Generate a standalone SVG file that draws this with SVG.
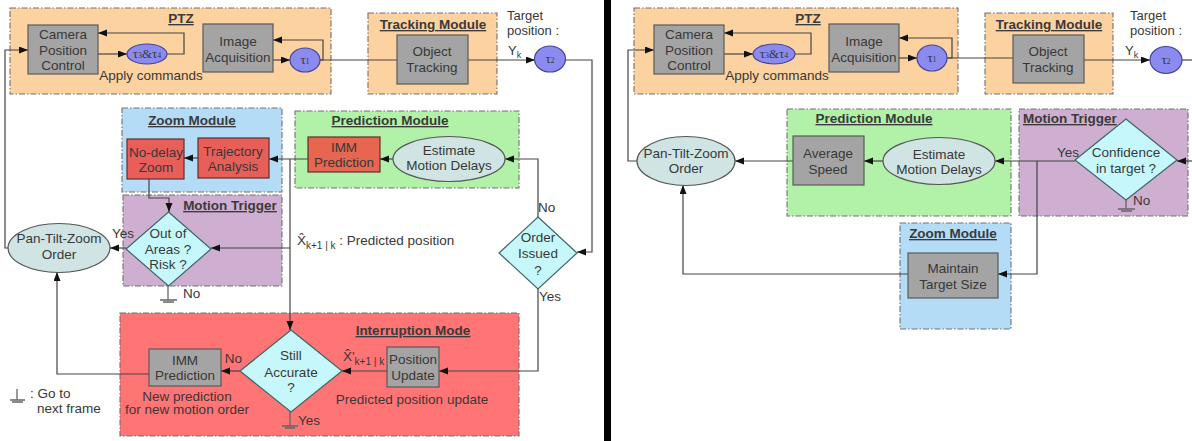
<svg xmlns="http://www.w3.org/2000/svg" width="1192" height="441" viewBox="0 0 1192 441">
  <defs>
    <marker id="arr" markerUnits="userSpaceOnUse" markerWidth="10" markerHeight="8" refX="9" refY="3.5" orient="auto">
      <path d="M0,0 L9,3.5 L0,7 z" fill="#111"/>
    </marker>
    <style>
      text { font-family: "Liberation Sans", Arial, sans-serif; font-size: 13.5px; fill: #383838; }
      .c { text-anchor: middle; }
      .hd { font-weight: bold; text-decoration: underline; fill: #3a3a3a; }
      .sm { font-size: 13px; }
      .group { stroke: #707070; stroke-width: 1.1; stroke-dasharray: 6 2 1.5 2; }
      .orange { fill: #fdd2a1; }
      .green { fill: #b2f2a8; }
      .blue { fill: #b5dcf7; }
      .mauve { fill: #cfafd1; }
      .redzone { fill: #ff7474; }
      .box { fill: #a4a4a4; stroke: #5a5a5a; stroke-width: 1.2; }
      .redbox { fill: #e85f5a; stroke: #5a3030; stroke-width: 1.2; }
      .tau { fill: #8b8bef; stroke: #44449a; stroke-width: 1.2; }
      .oval { fill: #cfe4e3; stroke: #555; stroke-width: 1.2; }
      .dia { fill: #c6f8fb; stroke: #3d6666; stroke-width: 1.2; }
      .wire { fill: none; stroke: #444; stroke-width: 1.2; }
      .ground { fill: none; stroke: #666; stroke-width: 1.3; }
    </style>
  </defs>

  <rect x="0" y="0" width="1192" height="441" fill="#ffffff"/>

  <!-- ===== Left scheme: module frames ===== -->
  <g id="ptz-left">
    <rect class="group orange" x="10" y="8" width="321" height="86"/>
    <text class="hd c" x="181" y="23">PTZ</text>
  </g>
  <g id="tracking-left">
    <rect class="group orange" x="368" y="13" width="129" height="81"/>
    <text class="hd c" x="433" y="29">Tracking Module</text>
  </g>
  <g id="zoom-left">
    <rect class="group blue" x="122" y="108" width="160" height="84"/>
    <text class="hd c" x="192" y="125">Zoom Module</text>
  </g>
  <g id="prediction-left">
    <rect class="group green" x="295" y="111" width="224" height="77"/>
    <text class="hd c" x="390" y="125">Prediction  Module</text>
  </g>
  <g id="trigger-left">
    <rect class="group mauve" x="123" y="195" width="159" height="91"/>
    <text class="hd c" x="230" y="210">Motion Trigger</text>
  </g>
  <g id="interruption-left">
    <rect class="group redzone" x="120" y="313" width="399" height="123"/>
    <text class="hd c" x="413" y="335">Interruption Mode</text>
  </g>

  <!-- ===== Right scheme: module frames ===== -->
  <g id="ptz-right">
    <rect class="group orange" x="634" y="8" width="324" height="86"/>
    <text class="hd c" x="808" y="23">PTZ</text>
  </g>
  <g id="tracking-right">
    <rect class="group orange" x="985" y="13" width="128" height="81"/>
    <text class="hd c" x="1049" y="29">Tracking Module</text>
  </g>
  <g id="prediction-right">
    <rect class="group green" x="787" y="109" width="224" height="107"/>
    <text class="hd c" x="874" y="123">Prediction  Module</text>
  </g>
  <g id="trigger-right">
    <rect class="group mauve" x="1019" y="109" width="169" height="107"/>
    <text class="hd" x="1023" y="123">Motion Trigger</text>
  </g>
  <g id="zoom-right">
    <rect class="group blue" x="900" y="223" width="111" height="106"/>
    <text class="hd c" x="953" y="238">Zoom Module</text>
  </g>

  <!-- ===== Connectors ===== -->
  <g id="connectors">
    <!-- left scheme -->
    <path class="wire" d="M98,54 H127" marker-end="url(#arr)"/>
    <path class="wire" d="M167,54 H184 V33 H98" marker-end="url(#arr)"/>
    <path class="wire" d="M273,60 H290" marker-end="url(#arr)"/>
    <path class="wire" d="M320,60 H323 V40 H273" marker-end="url(#arr)"/>
    <path class="wire" d="M320,60 H397"/>
    <path class="wire" d="M468,60 H535" marker-end="url(#arr)"/>
    <path class="wire" d="M566,60 H592 V252 H577" marker-end="url(#arr)"/>
    <path class="wire" d="M538,217 V159 H505" marker-end="url(#arr)"/>
    <path class="wire" d="M393,159 H380" marker-end="url(#arr)"/>
    <path class="wire" d="M308,159 H269" marker-end="url(#arr)"/>
    <path class="wire" d="M290,159 V330" marker-end="url(#arr)"/>
    <path class="wire" d="M290,248 H211" marker-end="url(#arr)"/>
    <path class="wire" d="M198,158 H184" marker-end="url(#arr)"/>
    <path class="wire" d="M149,179 V198 H169 V212" marker-end="url(#arr)"/>
    <path class="wire" d="M126,248 H110" marker-end="url(#arr)"/>
    <path class="wire" d="M8,248 H5 V50 H28" marker-end="url(#arr)"/>
    <path class="wire" d="M538,289 V371 H439" marker-end="url(#arr)"/>
    <path class="wire" d="M387,371 H342" marker-end="url(#arr)"/>
    <path class="wire" d="M240,371 H221" marker-end="url(#arr)"/>
    <path class="wire" d="M149,374 H57 V272" marker-end="url(#arr)"/>
    <!-- go-to-next-frame terminals -->
    <path class="ground" d="M168,286 V300 M160,300 H177 M163,302 H174"/>
    <path class="ground" d="M290,412 V426 M282,426 H298 M285,428 H295"/>

    <!-- right scheme -->
    <path class="wire" d="M724,54 H753" marker-end="url(#arr)"/>
    <path class="wire" d="M795,54 H811 V33 H724" marker-end="url(#arr)"/>
    <path class="wire" d="M899,58 H917" marker-end="url(#arr)"/>
    <path class="wire" d="M947,58 H952 V38 H899" marker-end="url(#arr)"/>
    <path class="wire" d="M947,58 H1013"/>
    <path class="wire" d="M1084,60 H1150" marker-end="url(#arr)"/>
    <path class="wire" d="M1182,60 H1192"/>
    <path class="wire" d="M1192,161 H1177" marker-end="url(#arr)"/>
    <path class="wire" d="M1075,161 H995" marker-end="url(#arr)"/>
    <path class="wire" d="M1037,161 V274 H998" marker-end="url(#arr)"/>
    <path class="wire" d="M883,161 H864" marker-end="url(#arr)"/>
    <path class="wire" d="M793,161 H735" marker-end="url(#arr)"/>
    <path class="wire" d="M637,161 H628 V50 H654" marker-end="url(#arr)"/>
    <path class="wire" d="M908,274 H683 V185" marker-end="url(#arr)"/>
    <path class="ground" d="M1126,200 V209 M1118,209 H1135 M1121,211 H1132"/>
  </g>

  <!-- ===== Left scheme: nodes ===== -->
  <g id="camera-left">
    <rect class="box" x="28" y="25" width="70" height="49"/>
    <text class="c" x="63" y="39">Camera</text>
    <text class="c" x="63" y="55">Position</text>
    <text class="c" x="63" y="70">Control</text>
  </g>
  <g id="tau34-left">
    <ellipse class="tau" cx="147" cy="54" rx="20" ry="10"/>
    <text class="c" x="147" y="58" style="font-family:'Liberation Serif',serif;font-size:13px">τ<tspan font-size="8">3</tspan>&amp;τ<tspan font-size="8">4</tspan></text>
    <text class="c" x="151" y="80">Apply commands</text>
  </g>
  <g id="acquisition-left">
    <rect class="box" x="203" y="24" width="70" height="48"/>
    <text class="c" x="238" y="46">Image</text>
    <text class="c" x="238" y="62">Acquisition</text>
  </g>
  <g id="tau1-left">
    <ellipse class="tau" cx="305" cy="60" rx="15" ry="12"/>
    <text class="c" x="305" y="64" style="font-family:'Liberation Serif',serif;font-size:13px">τ<tspan font-size="8">1</tspan></text>
  </g>
  <g id="tracking-node-left">
    <rect class="box" x="397" y="35" width="71" height="49"/>
    <text class="c" x="432" y="56">Object</text>
    <text class="c" x="432" y="72">Tracking</text>
  </g>
  <g id="target-left">
    <text class="sm" x="507" y="20">Target</text>
    <text class="sm" x="507" y="35">position :</text>
    <text class="sm" x="508" y="55">Y<tspan font-size="9" dy="3">k</tspan></text>
  </g>
  <g id="tau2-left">
    <ellipse class="tau" cx="550" cy="59" rx="15.5" ry="13"/>
    <text class="c" x="550" y="63" style="font-family:'Liberation Serif',serif;font-size:13px">τ<tspan font-size="8">2</tspan></text>
  </g>
  <g id="order-issued">
    <polygon class="dia" points="538,217 577,253 538,289 499,253"/>
    <text class="c" x="538" y="242">Order</text>
    <text class="c" x="538" y="258">Issued</text>
    <text class="c" x="538" y="275">?</text>
    <text x="538" y="212">No</text>
    <text x="539" y="301">Yes</text>
  </g>
  <g id="estimate-left">
    <ellipse class="oval" cx="449" cy="159" rx="56" ry="22.5"/>
    <text class="c" x="449" y="155">Estimate</text>
    <text class="c" x="449" y="170">Motion Delays</text>
  </g>
  <g id="imm-prediction">
    <rect x="308" y="137" width="72" height="35" fill="#e6664f" stroke="#5a3030" stroke-width="1.2"/>
    <text class="c" x="344" y="152">IMM</text>
    <text class="c" x="344" y="167">Prediction</text>
  </g>
  <g id="trajectory">
    <rect class="redbox" x="198" y="138" width="71" height="40"/>
    <text class="c" x="233" y="156">Trajectory</text>
    <text class="c" x="233" y="171">Analysis</text>
  </g>
  <g id="nodelay-zoom">
    <rect class="redbox" x="127" y="139" width="57" height="40"/>
    <text class="c" x="156" y="157">No-delay</text>
    <text class="c" x="156" y="172">Zoom</text>
  </g>
  <g id="out-of-areas">
    <polygon class="dia" points="168.5,212 211,249 168.5,286 126,249"/>
    <text class="c" x="168" y="238">Out of</text>
    <text class="c" x="168" y="254">Areas ?</text>
    <text class="c" x="168" y="269">Risk ?</text>
    <text x="112" y="238">Yes</text>
    <text x="183" y="298">No</text>
  </g>
  <g id="predicted-label">
    <text x="297" y="245">X̂<tspan font-size="10" dy="4">k+1 | k</tspan><tspan dy="-4"> : Predicted position</tspan></text>
  </g>
  <g id="ptz-order-left">
    <ellipse class="oval" cx="59" cy="248" rx="51" ry="24.5"/>
    <text class="c" x="59" y="243">Pan-Tilt-Zoom</text>
    <text class="c" x="59" y="259">Order</text>
  </g>
  <g id="still-accurate">
    <polygon class="dia" points="291,330 342,371 291,412 240,371"/>
    <text class="c" x="291" y="360">Still</text>
    <text class="c" x="291" y="377">Accurate</text>
    <text class="c" x="291" y="392">?</text>
    <text x="240" y="363" text-anchor="end" dx="-6" style="text-anchor:end" transform="translate(8,0)">No</text>
    <text x="298" y="425">Yes</text>
  </g>
  <g id="position-update">
    <rect class="box" x="387" y="347" width="52" height="40"/>
    <text class="c" x="413" y="364">Position</text>
    <text class="c" x="413" y="380">Update</text>
    <text class="c" x="412" y="404">Predicted position update</text>
    <text x="343" y="361">X̂'<tspan font-size="10" dy="4">k+1 | k</tspan></text>
  </g>
  <g id="imm-interruption">
    <rect class="box" x="149" y="349" width="72" height="37"/>
    <text class="c" x="185" y="365">IMM</text>
    <text class="c" x="185" y="380">Prediction</text>
    <text class="c" x="187" y="401">New prediction</text>
    <text class="c" x="187" y="414">for new motion order</text>
  </g>
  <g id="legend">
    <path class="ground" d="M17,389 V400 M10,400 H25 M12,402 H23"/>
    <text x="30" y="398">: Go to</text>
    <text x="37" y="413">next frame</text>
  </g>

  <!-- divider -->
  <rect x="604" y="0" width="7" height="441" fill="#000"/>

  <!-- ===== Right scheme: nodes ===== -->
  <g id="camera-right">
    <rect class="box" x="654" y="25" width="70" height="49"/>
    <text class="c" x="689" y="39">Camera</text>
    <text class="c" x="689" y="55">Position</text>
    <text class="c" x="689" y="70">Control</text>
  </g>
  <g id="tau34-right">
    <ellipse class="tau" cx="774" cy="54" rx="21" ry="10"/>
    <text class="c" x="774" y="58" style="font-family:'Liberation Serif',serif;font-size:13px">τ<tspan font-size="8">3</tspan>&amp;τ<tspan font-size="8">4</tspan></text>
    <text class="c" x="777" y="80">Apply commands</text>
  </g>
  <g id="acquisition-right">
    <rect class="box" x="829" y="24" width="70" height="48"/>
    <text class="c" x="864" y="46">Image</text>
    <text class="c" x="864" y="62">Acquisition</text>
  </g>
  <g id="tau1-right">
    <ellipse class="tau" cx="932" cy="58" rx="15" ry="13"/>
    <text class="c" x="932" y="62" style="font-family:'Liberation Serif',serif;font-size:13px">τ<tspan font-size="8">1</tspan></text>
  </g>
  <g id="tracking-node-right">
    <rect class="box" x="1013" y="35" width="71" height="48"/>
    <text class="c" x="1048" y="56">Object</text>
    <text class="c" x="1048" y="72">Tracking</text>
  </g>
  <g id="target-right">
    <text class="sm" x="1130" y="20">Target</text>
    <text class="sm" x="1130" y="35">position :</text>
    <text class="sm" x="1125" y="55">Y<tspan font-size="9" dy="3">k</tspan></text>
  </g>
  <g id="tau2-right">
    <ellipse class="tau" cx="1166" cy="60" rx="16" ry="13.5"/>
    <text class="c" x="1166" y="64" style="font-family:'Liberation Serif',serif;font-size:13px">τ<tspan font-size="8">2</tspan></text>
  </g>
  <g id="confidence">
    <polygon class="dia" points="1126,119 1177,160 1126,200 1075,160"/>
    <text class="c" x="1126" y="157">Confidence</text>
    <text class="c" x="1126" y="173">in target ?</text>
    <text x="1057" y="157">Yes</text>
    <text x="1133" y="205">No</text>
  </g>
  <g id="estimate-right">
    <ellipse class="oval" cx="939" cy="161" rx="56" ry="23.5"/>
    <text class="c" x="939" y="159">Estimate</text>
    <text class="c" x="939" y="174">Motion Delays</text>
  </g>
  <g id="average-speed">
    <rect class="box" x="793" y="136" width="71" height="49"/>
    <text class="c" x="828" y="158">Average</text>
    <text class="c" x="828" y="174">Speed</text>
  </g>
  <g id="ptz-order-right">
    <ellipse class="oval" cx="686" cy="161" rx="49" ry="24.5"/>
    <text class="c" x="686" y="158">Pan-Tilt-Zoom</text>
    <text class="c" x="686" y="173">Order</text>
  </g>
  <g id="maintain-size">
    <rect class="box" x="908" y="253" width="90" height="45"/>
    <text class="c" x="953" y="273">Maintain</text>
    <text class="c" x="953" y="289">Target Size</text>
  </g>
</svg>
